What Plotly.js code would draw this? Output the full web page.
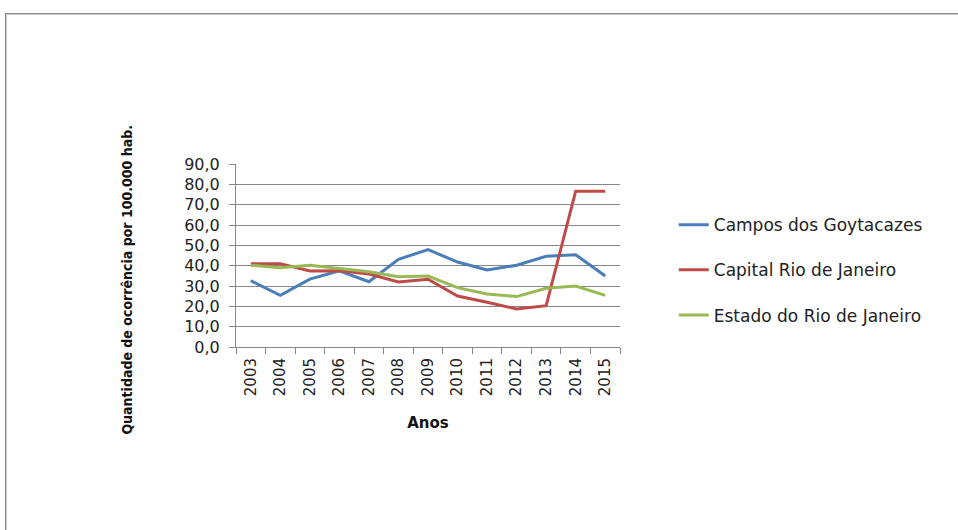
<!DOCTYPE html>
<html>
<head>
<meta charset="utf-8">
<script src="https://cdn.plot.ly/plotly-3.0.1.min.js"></script>
<style>
  html, body { margin: 0; padding: 0; background: #fff; }
  #wrap { position: relative; width: 958px; height: 530px; overflow: hidden; }
  #frame { position: absolute; left: 5px; top: 13px; width: 1000px; height: 600px; border: 1px solid #8c8c8c; box-shadow: 1px 1px 0 #c8c8c8 inset; }
  #chart { position: absolute; left: 0; top: 0; width: 958px; height: 530px; }
</style>
</head>
<body>
<div id="wrap">
  <div id="frame"></div>
  <div id="chart"></div>
</div>
<script>
const years = ["2003","2004","2005","2006","2007","2008","2009","2010","2011","2012","2013","2014","2015"];
const campos = [32.6, 25.4, 33.4, 37.5, 32.1, 43.1, 47.9, 41.8, 37.9, 40.2, 44.6, 45.4, 34.9];
const capital = [41.0, 41.0, 37.4, 37.5, 35.9, 32.0, 33.3, 25.1, 22.0, 18.7, 20.3, 76.6, 76.6];
const estado = [40.2, 39.0, 40.2, 38.5, 37.0, 34.6, 34.9, 29.2, 26.1, 24.8, 28.9, 30.0, 25.4];
const yTicks = [0, 10, 20, 30, 40, 50, 60, 70, 80, 90];
const yTickLabels = ["0,0","10,0","20,0","30,0","40,0","50,0","60,0","70,0","80,0","90,0"];
const seriesNames = ["Campos dos Goytacazes", "Capital Rio de Janeiro", "Estado do Rio de Janeiro"];

const colors = ["#4a7ebb", "#be4b48", "#98b954"];
const data = [campos, capital, estado].map((vals, i) => ({
  type: "scatter",
  mode: "lines",
  x: years,
  y: vals,
  name: seriesNames[i],
  legendgroup: "g" + i,
  line: { color: colors[i], width: 3 },
  hoverinfo: "skip"
}));

const layout = {
  width: 958,
  height: 530,
  paper_bgcolor: "rgba(0,0,0,0)",
  plot_bgcolor: "rgba(0,0,0,0)",
  margin: { l: 236, r: 338, t: 164, b: 183 },
  showlegend: true,
  legend: {
    x: 1.14, xanchor: "left",
    y: 0.42, yanchor: "middle",
    font: { family: "DejaVu Sans, sans-serif", size: 17, color: "#222" },
    tracegroupgap: 20,
    bgcolor: "rgba(0,0,0,0)"
  },
  xaxis: {
    type: "category",
    range: [-0.5, 12.5],
    tickson: "boundaries",
    ticks: "outside",
    ticklen: 6,
    tickcolor: "#868686",
    tickangle: -90,
    ticklabelstandoff: 4,
    tickfont: { family: "DejaVu Sans, sans-serif", size: 15, color: "#222" },
    showline: true,
    linecolor: "#868686",
    linewidth: 1,
    showgrid: false,
    fixedrange: true,
    title: { text: "<b>Anos</b>", font: { family: "DejaVu Sans, sans-serif", size: 15, color: "#111" }, standoff: 22 }
  },
  yaxis: {
    range: [0, 90],
    tickvals: yTicks,
    ticktext: yTickLabels,
    ticks: "outside",
    ticklen: 6,
    tickcolor: "#868686",
    ticklabelstandoff: 6,
    tickfont: { family: "DejaVu Sans, sans-serif", size: 16, color: "#222" },
    showline: true,
    linecolor: "#868686",
    linewidth: 1,
    showgrid: true,
    gridcolor: "#868686",
    gridwidth: 1,
    zeroline: false,
    fixedrange: true
  },
  annotations: [{
    text: "<b>Quantidade de ocorrência por 100.000 hab.</b>",
    xref: "paper", yref: "paper",
    x: -0.285, y: 0.366,
    xanchor: "center", yanchor: "middle",
    textangle: -90,
    showarrow: false,
    font: { family: "DejaVu Sans Condensed, Liberation Sans Narrow, sans-serif", size: 14, color: "#111" }
  }]
};

Plotly.newPlot("chart", data, layout, { displayModeBar: false, staticPlot: true });
</script>
</body>
</html>
